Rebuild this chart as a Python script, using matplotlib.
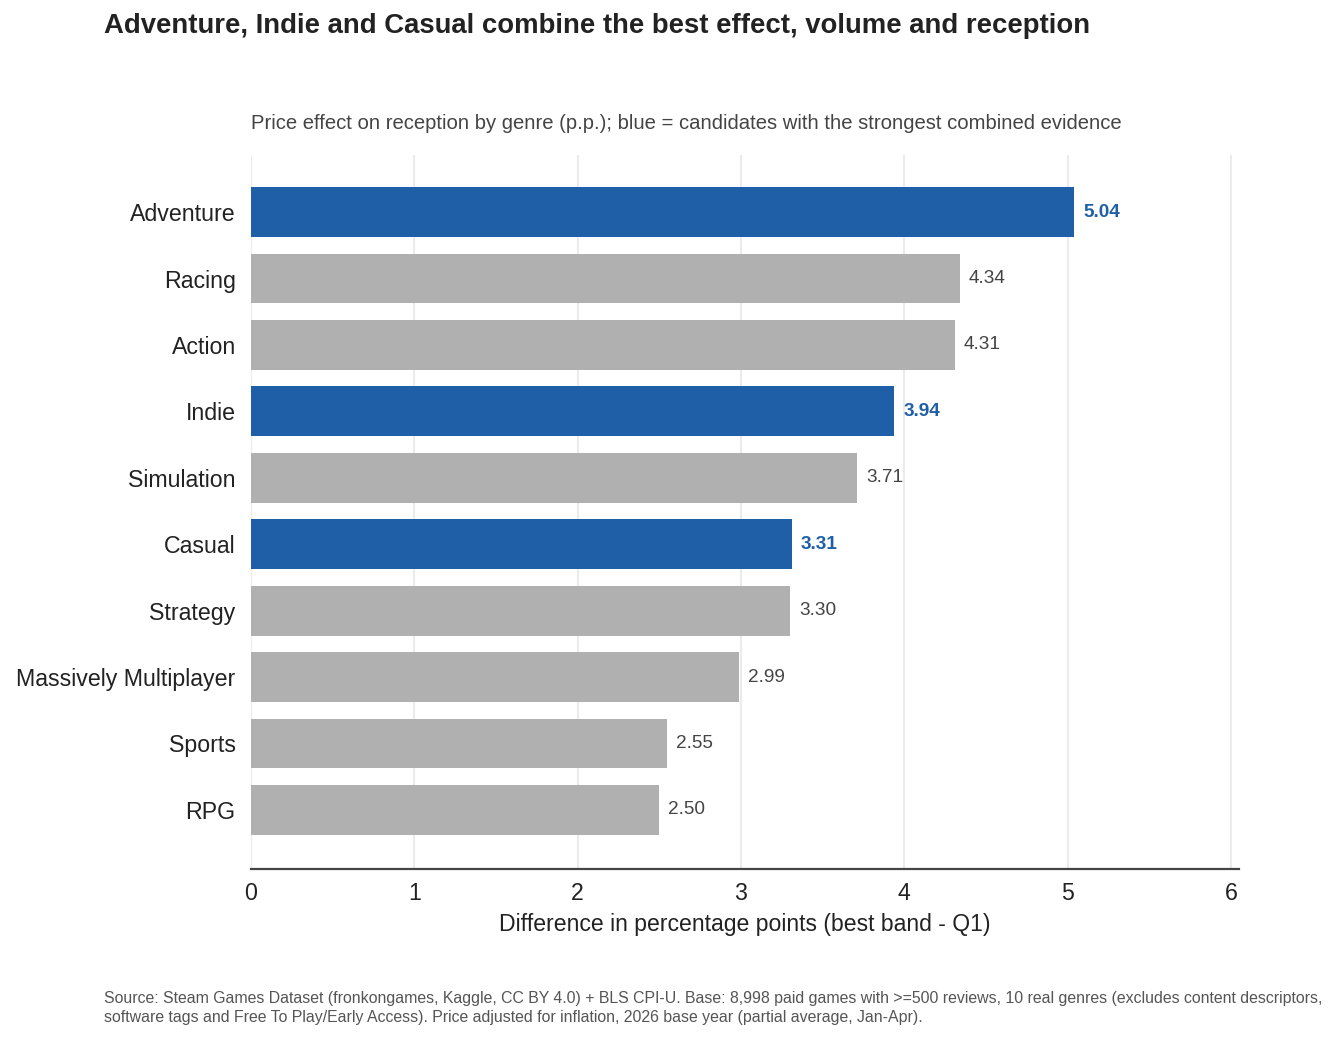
import numpy as np
import matplotlib
matplotlib.use('Agg')
import matplotlib.pyplot as plt

plt.rcParams['font.family'] = ['Liberation Sans', 'DejaVu Sans']

# Data (top to bottom)
genres = ['Adventure', 'Racing', 'Action', 'Indie', 'Simulation', 'Casual',
          'Strategy', 'Massively Multiplayer', 'Sports', 'RPG']
effects = [5.04, 4.34, 4.31, 3.94, 3.71, 3.31, 3.30, 2.99, 2.55, 2.50]
highlight = ['Adventure', 'Indie', 'Casual']

BLUE = '#1f5fa8'
GREY = '#b0b0b0'
DARK = '#222222'

fig = plt.figure(figsize=(13.37, 10.41), dpi=100)
ax = fig.add_axes([251 / 1337, 1 - 869 / 1041, (1239 - 251) / 1337, (869 - 155) / 1041])

y = np.arange(len(genres))
colors = [BLUE if g in highlight else GREY for g in genres]
ax.barh(y, effects, height=0.75, color=colors, zorder=2)

for yi, g, v in zip(y, genres, effects):
    hl = g in highlight
    ax.text(v + 0.055, yi, f'{v:.2f}', va='center', ha='left',
            fontsize=13.7, color=BLUE if hl else '#444444',
            fontweight='bold' if hl else 'normal', zorder=3)

ax.set_xlim(0, 6.05)
ax.set_ylim(9.89, -0.86)
ax.set_yticks(y)
ax.set_yticklabels(genres, fontsize=16.65, color=DARK)
ax.set_xticks(range(0, 7))
ax.tick_params(axis='x', labelsize=16.65, labelcolor=DARK, length=0, pad=9)
ax.tick_params(axis='y', length=0, pad=11)
ax.grid(axis='x', color='#ebebeb', linewidth=1.5, zorder=0)
ax.set_axisbelow(True)
for s in ['top', 'right', 'left']:
    ax.spines[s].set_visible(False)
ax.spines['bottom'].set_color('#444444')
ax.spines['bottom'].set_linewidth(1.6)

ax.set_xlabel('Difference in percentage points (best band - Q1)', fontsize=16.6,
              color=DARK, labelpad=6)

fig.text(104 / 1337, 1 - 13 / 1041,
         'Adventure, Indie and Casual combine the best effect, volume and reception',
         fontsize=19.85, fontweight='bold', color=DARK, ha='left', va='top')
ax.text(0, 1.031, 'Price effect on reception by genre (p.p.); blue = candidates with the strongest combined evidence',
        transform=ax.transAxes, fontsize=14.55, color='#444444', ha='left', va='bottom')

fig.text(104 / 1337, 1 - 991 / 1041,
         'Source: Steam Games Dataset (fronkongames, Kaggle, CC BY 4.0) + BLS CPI-U. Base: 8,998 paid games with >=500 reviews, 10 real genres (excludes content descriptors,\n'
         'software tags and Free To Play/Early Access). Price adjusted for inflation, 2026 base year (partial average, Jan-Apr).',
         fontsize=11.4, color='#555555', ha='left', va='top', linespacing=1.3)

fig.savefig('out.png', dpi=100, facecolor='white')
